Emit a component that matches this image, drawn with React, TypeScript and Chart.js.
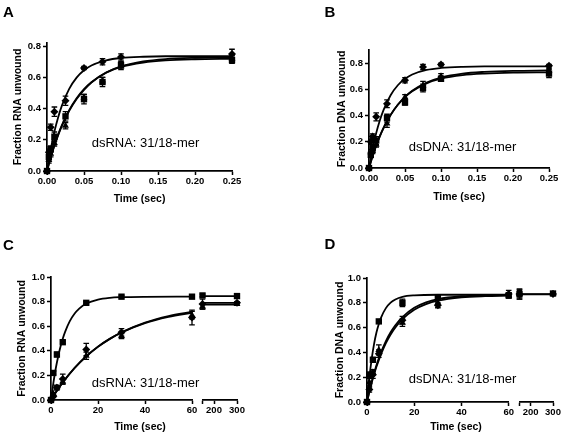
import React, { useEffect, useRef } from 'react';
import { Chart, registerables } from 'chart.js';
Chart.register(...registerables);

const FONT = "'Liberation Sans', Arial, Helvetica, sans-serif";

// ---------- Panel A (dsRNA, short times) ----------
const A_T = [0, 0.0025, 0.005, 0.01, 0.025, 0.05, 0.075, 0.1, 0.25];
const A_DIAMOND = [0, 0.12, 0.28, 0.38, 0.45, 0.66, 0.7, 0.73, 0.75];
const A_DIAMOND_ERR = [0, 0.02, 0.02, 0.03, 0.03, 0.01, 0.02, 0.02, 0.03];
const A_SQUARE = [0, 0.09, 0.14, 0.22, 0.35, 0.46, 0.57, 0.68, 0.71];
const A_SQUARE_ERR = [0, 0.02, 0.02, 0.03, 0.03, 0.03, 0.03, 0.02, 0.02];
const A_TRIANGLE = [0, 0.07, 0.11, 0.18, 0.29, 0.47, 0.58, 0.67, 0.72];
const A_TRIANGLE_ERR = [0, 0.02, 0.02, 0.02, 0.02, 0.02, 0.02, 0.02, 0.02];
const A_FIT_T = [0, 0.005, 0.01, 0.015, 0.02, 0.03, 0.04, 0.05, 0.06, 0.08, 0.1, 0.13, 0.16, 0.2, 0.25];
const A_FIT_FAST = [0, 0.139, 0.252, 0.343, 0.417, 0.526, 0.598, 0.645, 0.676, 0.709, 0.724, 0.732, 0.735, 0.735, 0.735];
const A_FIT_SLOW1 = [0, 0.088, 0.165, 0.233, 0.292, 0.39, 0.466, 0.524, 0.569, 0.63, 0.667, 0.695, 0.709, 0.716, 0.719];
const A_FIT_SLOW2 = [0, 0.086, 0.162, 0.228, 0.287, 0.385, 0.461, 0.52, 0.567, 0.631, 0.67, 0.702, 0.717, 0.725, 0.729];

// ---------- Panel B (dsDNA, short times) ----------
const B_T = [0, 0.0025, 0.005, 0.01, 0.025, 0.05, 0.075, 0.1, 0.25];
const B_DIAMOND = [0, 0.2, 0.24, 0.39, 0.49, 0.67, 0.77, 0.79, 0.78];
const B_DIAMOND_ERR = [0, 0.02, 0.02, 0.03, 0.03, 0.02, 0.02, 0.01, 0.01];
const B_SQUARE = [0, 0.1, 0.15, 0.21, 0.38, 0.5, 0.61, 0.68, 0.72];
const B_SQUARE_ERR = [0, 0.02, 0.02, 0.03, 0.03, 0.02, 0.03, 0.02, 0.03];
const B_TRIANGLE = [0, 0.12, 0.13, 0.18, 0.34, 0.54, 0.63, 0.7, 0.74];
const B_TRIANGLE_ERR = [0, 0.02, 0.02, 0.02, 0.03, 0.02, 0.03, 0.02, 0.02];
const B_FIT_T = [0, 0.005, 0.01, 0.015, 0.02, 0.03, 0.04, 0.05, 0.06, 0.08, 0.1, 0.13, 0.16, 0.2, 0.25];
const B_FIT_FAST = [0, 0.146, 0.266, 0.362, 0.44, 0.555, 0.631, 0.68, 0.713, 0.748, 0.763, 0.772, 0.775, 0.775, 0.775];
const B_FIT_SLOW1 = [0, 0.092, 0.173, 0.243, 0.304, 0.405, 0.482, 0.541, 0.585, 0.646, 0.681, 0.708, 0.72, 0.727, 0.729];
const B_FIT_SLOW2 = [0, 0.091, 0.171, 0.241, 0.302, 0.404, 0.482, 0.542, 0.589, 0.652, 0.69, 0.72, 0.733, 0.741, 0.744];

// ---------- Panel C (dsRNA, long times, broken axis) ----------
const C_T = [0, 1, 2.5, 5, 15, 30, 60, 150, 300];
const C_SQUARE = [0, 0.22, 0.37, 0.47, 0.79, 0.84, 0.84, 0.85, 0.845];
const C_SQUARE_ERR = [0, 0.01, 0.02, 0.01, 0.01, 0.01, 0.01, 0.01, 0.01];
const C_DIAMOND = [0, 0.03, 0.1, 0.17, 0.41, 0.55, 0.67, 0.78, 0.79];
const C_DIAMOND_ERR = [0, 0.01, 0.02, 0.04, 0.05, 0.03, 0.06, 0.04, 0.01];
const C_TRIANGLE = [0, 0.05, 0.1, 0.15, 0.36, 0.52, 0.69, 0.76, 0.78];
const C_TRIANGLE_ERR = [0, 0.01, 0.01, 0.02, 0.03, 0.02, 0.03, 0.02, 0.01];
const C_FIT_FAST_T = [0, 1, 2, 3, 4, 5, 6, 8, 10, 12, 15, 20, 25, 30, 40, 60];
const C_FIT_FAST = [0, 0.138, 0.254, 0.35, 0.431, 0.498, 0.554, 0.641, 0.701, 0.743, 0.784, 0.817, 0.831, 0.836, 0.839, 0.84];
const C_FIT_SLOW_T = [0, 2, 5, 10, 15, 20, 25, 30, 40, 50, 60];
const C_FIT_SLOW1 = [0, 0.06, 0.142, 0.259, 0.354, 0.433, 0.497, 0.55, 0.629, 0.682, 0.717];
const C_FIT_SLOW2 = [0, 0.061, 0.143, 0.26, 0.356, 0.434, 0.497, 0.549, 0.625, 0.675, 0.709];
const C_FIT_R_T = [150, 300];
const C_FIT_R_FAST = [0.845, 0.845];
const C_FIT_R_SLOW1 = [0.79, 0.79];
const C_FIT_R_SLOW2 = [0.775, 0.775];

// ---------- Panel D (dsDNA, long times, broken axis) ----------
const D_T = [0, 1, 2.5, 5, 15, 30, 60, 150, 300];
const D_SQUARE = [0, 0.22, 0.34, 0.65, 0.8, 0.84, 0.86, 0.87, 0.875];
const D_SQUARE_ERR = [0, 0.02, 0.02, 0.01, 0.03, 0.01, 0.02, 0.04, 0.01];
const D_DIAMOND = [0, 0.1, 0.22, 0.39, 0.66, 0.78, 0.87, 0.87, 0.87];
const D_DIAMOND_ERR = [0, 0.02, 0.03, 0.03, 0.03, 0.02, 0.03, 0.04, 0.01];
const D_TRIANGLE = [0, 0.16, 0.24, 0.42, 0.64, 0.8, 0.86, 0.87, 0.87];
const D_TRIANGLE_ERR = [0, 0.03, 0.02, 0.04, 0.03, 0.02, 0.02, 0.03, 0.01];
const D_FIT_FAST_T = [0, 1, 2, 3, 4, 5, 6, 8, 10, 12, 15, 20, 30, 60];
const D_FIT_FAST = [0, 0.198, 0.35, 0.469, 0.56, 0.629, 0.683, 0.757, 0.801, 0.827, 0.848, 0.86, 0.865, 0.865];
const D_FIT_SLOW_T = [0, 1, 2, 3, 4, 5, 6, 8, 10, 12, 15, 20, 25, 30, 40, 50, 60];
const D_FIT_SLOW1 = [0, 0.082, 0.156, 0.223, 0.284, 0.338, 0.388, 0.474, 0.544, 0.601, 0.668, 0.744, 0.789, 0.817, 0.844, 0.854, 0.858];
const D_FIT_SLOW2 = [0, 0.086, 0.164, 0.233, 0.297, 0.353, 0.404, 0.491, 0.562, 0.619, 0.685, 0.76, 0.804, 0.83, 0.853, 0.861, 0.864];
const D_FIT_R_T = [150, 300];
const D_FIT_R_FAST = [0.87, 0.87];
const D_FIT_R_SLOW = [0.868, 0.868];

// ---------- tick values ----------
const SHORT_X_TICKS = [0, 0.05, 0.1, 0.15, 0.2, 0.25];
const LONG_X_TICKS = [0, 20, 40, 60];
const BREAK_X_TICKS = [150, 200, 300];
const Y_TICKS_08 = [0, 0.2, 0.4, 0.6, 0.8];
const Y_TICKS_10 = [0, 0.2, 0.4, 0.6, 0.8, 1.0];

type Pt = { x: number; y: number; e: number };

function pts(t: number[], v: number[], e?: number[], lo = -Infinity, hi = Infinity): Pt[] {
  const out: Pt[] = [];
  t.forEach((x, i) => {
    if (x >= lo && x <= hi) out.push({ x, y: v[i], e: e ? e[i] : 0 });
  });
  return out;
}

function markerDs(data: Pt[], style: string, radius: number) {
  return {
    data,
    pointStyle: style,
    pointRadius: radius,
    pointBackgroundColor: '#000',
    pointBorderColor: '#000',
    pointBorderWidth: 0,
    showLine: false,
    clip: false,
    errorBars: true,
  };
}

function curveDs(data: Pt[]) {
  return {
    data,
    showLine: true,
    pointRadius: 0,
    borderColor: '#000',
    borderWidth: 1.8,
    cubicInterpolationMode: 'monotone',
    fill: false,
    clip: false,
  };
}

const errorBarPlugin = {
  id: 'errorBars',
  afterDatasetsDraw(chart: any) {
    const ctx = chart.ctx;
    const yScale = chart.scales.y;
    chart.data.datasets.forEach((ds: any, i: number) => {
      if (!ds.errorBars) return;
      const meta = chart.getDatasetMeta(i);
      meta.data.forEach((el: any, j: number) => {
        const p = ds.data[j];
        if (!p || !p.e) return;
        const x = el.x;
        const yt = yScale.getPixelForValue(p.y + p.e);
        const yb = yScale.getPixelForValue(p.y - p.e);
        ctx.save();
        ctx.strokeStyle = '#000';
        ctx.lineWidth = 1.3;
        ctx.beginPath();
        ctx.moveTo(x, yt);
        ctx.lineTo(x, yb);
        ctx.moveTo(x - 2.8, yt);
        ctx.lineTo(x + 2.8, yt);
        ctx.moveTo(x - 2.8, yb);
        ctx.lineTo(x + 2.8, yb);
        ctx.stroke();
        ctx.restore();
      });
    });
  },
};

type Spec = {
  left: number;
  top: number;
  width: number;
  height: number;
  padding: { left: number; right: number; top: number; bottom: number };
  xMin: number;
  xMax: number;
  xTicks: number[];
  xFmt: (v: number) => string;
  xHeight: number;
  xTitle?: string;
  yShow: boolean;
  yWidth: number;
  yMax: number;
  yTicks: number[];
  yTitle?: string;
  datasets: any[];
};

const tickFont = { family: FONT, size: 9.5, weight: 'bold' as const };
const titleFont = { family: FONT, size: 10.5, weight: 'bold' as const };

function Panel({ spec }: { spec: Spec }) {
  const ref = useRef<HTMLCanvasElement>(null);
  useEffect(() => {
    const chart = new Chart(ref.current as HTMLCanvasElement, {
      type: 'scatter',
      data: { datasets: spec.datasets as any },
      options: {
        animation: false,
        responsive: false,
        events: [],
        layout: { padding: spec.padding },
        plugins: { legend: { display: false }, tooltip: { enabled: false } },
        scales: {
          x: {
            type: 'linear',
            min: spec.xMin,
            max: spec.xMax,
            afterBuildTicks: (s: any) => {
              s.ticks = spec.xTicks.map((v) => ({ value: v }));
            },
            afterFit: (s: any) => {
              s.height = spec.xHeight;
            },
            ticks: {
              autoSkip: false,
              maxRotation: 0,
              minRotation: 0,
              padding: 1,
              color: '#000',
              font: tickFont,
              callback: (v: any) => spec.xFmt(Number(v)),
            },
            grid: {
              display: true,
              drawOnChartArea: false,
              drawTicks: true,
              tickLength: 4,
              tickWidth: 1.5,
              tickColor: '#000',
            },
            border: { display: true, color: '#000', width: 1.7 },
            title: spec.xTitle
              ? { display: true, text: spec.xTitle, color: '#000', font: titleFont, padding: { top: 0, bottom: 2 } }
              : { display: false },
          },
          y: {
            type: 'linear',
            display: spec.yShow,
            min: 0,
            max: spec.yMax,
            afterBuildTicks: (s: any) => {
              s.ticks = spec.yTicks.map((v) => ({ value: v }));
            },
            afterFit: (s: any) => {
              s.width = spec.yWidth;
            },
            ticks: {
              autoSkip: false,
              padding: 2,
              color: '#000',
              font: tickFont,
              callback: (v: any) => Number(v).toFixed(1),
            },
            grid: {
              display: true,
              drawOnChartArea: false,
              drawTicks: true,
              tickLength: 4,
              tickWidth: 1.5,
              tickColor: '#000',
            },
            border: { display: true, color: '#000', width: 1.7 },
            title: spec.yTitle
              ? { display: true, text: spec.yTitle, color: '#000', font: titleFont, padding: { top: 1, bottom: 0 } }
              : { display: false },
          },
        },
      } as any,
      plugins: [errorBarPlugin],
    });
    return () => chart.destroy();
  }, []);
  return (
    <div style={{ position: 'absolute', left: spec.left, top: spec.top, width: spec.width, height: spec.height }}>
      <canvas ref={ref} width={spec.width} height={spec.height} style={{ display: 'block', width: spec.width, height: spec.height }} />
    </div>
  );
}

function Text({ x, y, text, size, bold }: { x: number; y: number; text: string; size: number; bold?: boolean }) {
  return (
    <div
      style={{
        position: 'absolute',
        left: x,
        top: y,
        transform: 'translate(-50%, -50%)',
        fontFamily: FONT,
        fontSize: size,
        fontWeight: bold ? 'bold' : 'normal',
        lineHeight: 1,
        whiteSpace: 'nowrap',
        color: '#000',
      }}
    >
      {text}
    </div>
  );
}

const fmt2 = (v: number) => v.toFixed(2);
const fmtInt = (v: number) => String(v);
const fmtBreak = (v: number) => (v === 150 ? '' : String(v));

function shortSets(T: number[], dia: number[], diaE: number[], sq: number[], sqE: number[], tri: number[], triE: number[], fitT: number[], fast: number[], s1: number[], s2: number[]) {
  return [
    markerDs(pts(T, dia, diaE), 'rectRot', 4),
    markerDs(pts(T, sq, sqE), 'rect', 4.5),
    markerDs(pts(T, tri, triE), 'triangle', 4),
    curveDs(pts(fitT, fast)),
    curveDs(pts(fitT, s1)),
    curveDs(pts(fitT, s2)),
  ];
}

const specA: Spec = {
  left: 0, top: 0, width: 280, height: 215,
  padding: { left: 11, right: 48, top: 43, bottom: 8 },
  xMin: 0, xMax: 0.25, xTicks: SHORT_X_TICKS, xFmt: fmt2, xHeight: 36, xTitle: 'Time (sec)',
  yShow: true, yWidth: 36, yMax: 0.82, yTicks: Y_TICKS_08, yTitle: 'Fraction RNA unwound',
  datasets: shortSets(A_T, A_DIAMOND, A_DIAMOND_ERR, A_SQUARE, A_SQUARE_ERR, A_TRIANGLE, A_TRIANGLE_ERR, A_FIT_T, A_FIT_FAST, A_FIT_SLOW1, A_FIT_SLOW2),
};

const specB: Spec = {
  left: 280, top: 0, width: 283, height: 215,
  padding: { left: 55, right: 14, top: 50, bottom: 10 },
  xMin: 0, xMax: 0.25, xTicks: SHORT_X_TICKS, xFmt: fmt2, xHeight: 37, xTitle: 'Time (sec)',
  yShow: true, yWidth: 34, yMax: 0.9, yTicks: Y_TICKS_08, yTitle: 'Fraction DNA unwound',
  datasets: shortSets(B_T, B_DIAMOND, B_DIAMOND_ERR, B_SQUARE, B_SQUARE_ERR, B_TRIANGLE, B_TRIANGLE_ERR, B_FIT_T, B_FIT_FAST, B_FIT_SLOW1, B_FIT_SLOW2),
};

const specCMain: Spec = {
  left: 0, top: 215, width: 200, height: 219,
  padding: { left: 15, right: 8, top: 62, bottom: 14 },
  xMin: 0, xMax: 60, xTicks: LONG_X_TICKS, xFmt: fmtInt, xHeight: 20,
  yShow: true, yWidth: 36, yMax: 1.0, yTicks: Y_TICKS_10, yTitle: 'Fraction RNA unwound',
  datasets: [
    markerDs(pts(C_T, C_SQUARE, C_SQUARE_ERR, 0, 60), 'rect', 4.5),
    markerDs(pts(C_T, C_DIAMOND, C_DIAMOND_ERR, 0, 60), 'rectRot', 4),
    markerDs(pts(C_T, C_TRIANGLE, C_TRIANGLE_ERR, 0, 60), 'triangle', 4),
    curveDs(pts(C_FIT_FAST_T, C_FIT_FAST)),
    curveDs(pts(C_FIT_SLOW_T, C_FIT_SLOW1)),
    curveDs(pts(C_FIT_SLOW_T, C_FIT_SLOW2)),
  ],
};

const specCBreak: Spec = {
  left: 198, top: 215, width: 82, height: 219,
  padding: { left: 3, right: 43, top: 62, bottom: 14 },
  xMin: 150, xMax: 300, xTicks: BREAK_X_TICKS, xFmt: fmtBreak, xHeight: 20,
  yShow: false, yWidth: 0, yMax: 1.0, yTicks: Y_TICKS_10,
  datasets: [
    markerDs(pts(C_T, C_SQUARE, C_SQUARE_ERR, 100, 300), 'rect', 4.5),
    markerDs(pts(C_T, C_DIAMOND, C_DIAMOND_ERR, 100, 300), 'rectRot', 4),
    markerDs(pts(C_T, C_TRIANGLE, C_TRIANGLE_ERR, 100, 300), 'triangle', 4),
    curveDs(pts(C_FIT_R_T, C_FIT_R_FAST)),
    curveDs(pts(C_FIT_R_T, C_FIT_R_SLOW1)),
    curveDs(pts(C_FIT_R_T, C_FIT_R_SLOW2)),
  ],
};

const specDMain: Spec = {
  left: 280, top: 215, width: 235, height: 219,
  padding: { left: 53, right: 6, top: 63, bottom: 12 },
  xMin: 0, xMax: 60, xTicks: LONG_X_TICKS, xFmt: fmtInt, xHeight: 20,
  yShow: true, yWidth: 34, yMax: 1.0, yTicks: Y_TICKS_10, yTitle: 'Fraction DNA unwound',
  datasets: [
    markerDs(pts(D_T, D_SQUARE, D_SQUARE_ERR, 0, 60), 'rect', 4.5),
    markerDs(pts(D_T, D_DIAMOND, D_DIAMOND_ERR, 0, 60), 'rectRot', 4),
    markerDs(pts(D_T, D_TRIANGLE, D_TRIANGLE_ERR, 0, 60), 'triangle', 4),
    curveDs(pts(D_FIT_FAST_T, D_FIT_FAST)),
    curveDs(pts(D_FIT_SLOW_T, D_FIT_SLOW1)),
    curveDs(pts(D_FIT_SLOW_T, D_FIT_SLOW2)),
  ],
};

const specDBreak: Spec = {
  left: 515, top: 215, width: 48, height: 219,
  padding: { left: 3, right: 10, top: 63, bottom: 12 },
  xMin: 150, xMax: 300, xTicks: BREAK_X_TICKS, xFmt: fmtBreak, xHeight: 20,
  yShow: false, yWidth: 0, yMax: 1.0, yTicks: Y_TICKS_10,
  datasets: [
    markerDs(pts(D_T, D_SQUARE, D_SQUARE_ERR, 100, 300), 'rect', 4.5),
    markerDs(pts(D_T, D_DIAMOND, D_DIAMOND_ERR, 100, 300), 'rectRot', 4),
    markerDs(pts(D_T, D_TRIANGLE, D_TRIANGLE_ERR, 100, 300), 'triangle', 4),
    curveDs(pts(D_FIT_R_T, D_FIT_R_FAST)),
    curveDs(pts(D_FIT_R_T, D_FIT_R_SLOW)),
  ],
};

export default function App() {
  return (
    <div style={{ position: 'absolute', left: 0, top: 0, width: 563, height: 434, background: '#fff', overflow: 'hidden' }}>
      <Panel spec={specA} />
      <Panel spec={specB} />
      <Panel spec={specCMain} />
      <Panel spec={specCBreak} />
      <Panel spec={specDMain} />
      <Panel spec={specDBreak} />
      <Text x={8.5} y={11} text="A" size={15} bold />
      <Text x={330} y={11} text="B" size={15} bold />
      <Text x={8.5} y={244} text="C" size={15} bold />
      <Text x={330} y={243} text="D" size={15} bold />
      <Text x={145.5} y={142} text="dsRNA: 31/18-mer" size={13} />
      <Text x={462.5} y={145.5} text="dsDNA: 31/18-mer" size={13} />
      <Text x={145.5} y={381.5} text="dsRNA: 31/18-mer" size={13} />
      <Text x={462.5} y={378} text="dsDNA: 31/18-mer" size={13} />
      <Text x={140} y={425.5} text="Time (sec)" size={10.5} bold />
      <Text x={456} y={425.5} text="Time (sec)" size={10.5} bold />
    </div>
  );
}
